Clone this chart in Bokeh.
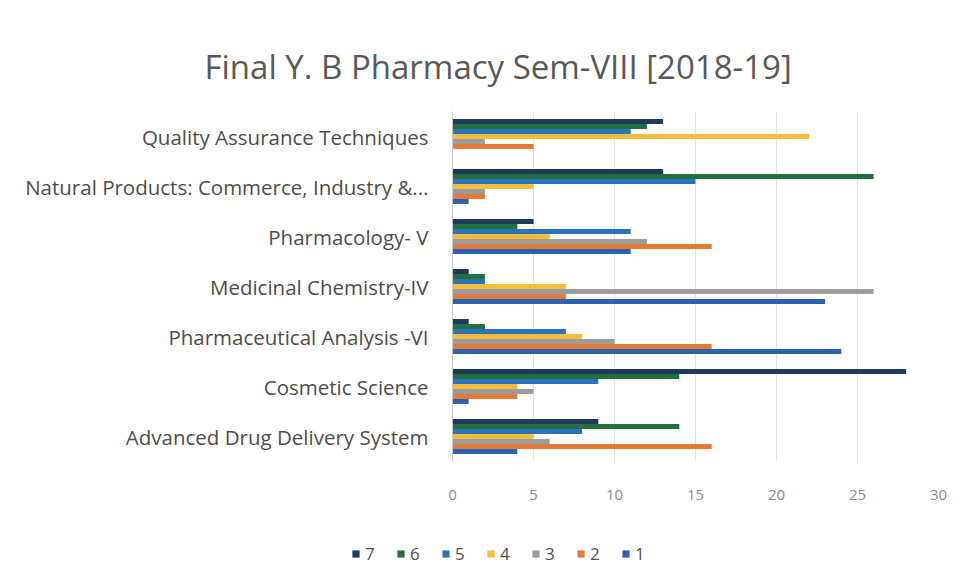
from bokeh.plotting import figure
from bokeh.models import ColumnDataSource, FactorRange, Legend, LegendItem
from bokeh.transform import dodge
from bokeh.embed import file_html
from bokeh.resources import INLINE

categories = ["Quality Assurance Techniques",
              "Natural Products: Commerce, Industry &...",
              "Pharmacology- V",
              "Medicinal Chemistry-IV",
              "Pharmaceutical Analysis -VI",
              "Cosmetic Science",
              "Advanced Drug Delivery System"]
series_names = ["7", "6", "5", "4", "3", "2", "1"]
s7 = [13, 13, 5, 1, 1, 28, 9]
s6 = [12, 26, 4, 2, 2, 14, 14]
s5 = [11, 15, 11, 2, 7, 9, 8]
s4 = [22, 5, 6, 7, 8, 4, 5]
s3 = [2, 2, 12, 26, 10, 5, 6]
s2 = [5, 2, 16, 7, 16, 4, 16]
s1 = [0, 1, 11, 23, 24, 1, 4]
x_ticks = [0, 5, 10, 15, 20, 25, 30]

colors = {"7": "#1d3a5c", "6": "#23703f", "5": "#2a74bd", "4": "#f4bd3c",
          "3": "#9c9c9c", "2": "#e27a3a", "1": "#2c62b0"}
values = {"7": s7, "6": s6, "5": s5, "4": s4, "3": s3, "2": s2, "1": s1}

data = {"cat": categories}
for k in series_names:
    data["s" + k] = values[k]
source = ColumnDataSource(data)

FONT = "Open Sans"
bar_h = 0.1

# ---- main chart ----
p = figure(frame_width=486, frame_height=350, output_backend="svg",
           toolbar_location=None,
           y_range=FactorRange(factors=list(reversed(categories))),
           x_range=(0, 30), min_border_left=452, min_border_right=22,
           min_border_top=111, min_border_bottom=50, outline_line_color=None)

p.title.text = "Final Y. B Pharmacy Sem-VIII [2018-19]"
p.title.align = "left"
p.title.offset = -248
p.title.standoff = 46
p.title.text_font = FONT
p.title.text_font_size = "33px"
p.title.text_font_style = "normal"
p.title.text_color = "#595959"

for k in series_names:
    off = (int(k) - 4) * bar_h
    p.hbar(y=dodge("cat", off, range=p.y_range), right="s" + k, left=0,
           height=bar_h, source=source, fill_color=colors[k], line_color=None)

p.xaxis.ticker = x_ticks
p.xaxis.axis_line_color = None
p.xaxis.major_tick_line_color = None
p.xaxis.minor_tick_line_color = None
p.xaxis.major_label_text_font = FONT
p.xaxis.major_label_text_font_size = "15px"
p.xaxis.major_label_text_color = "#8c8c8c"
p.xaxis.major_label_standoff = 22

p.yaxis.axis_line_color = "#c8c8c8"
p.yaxis.major_tick_line_color = None
p.yaxis.minor_tick_line_color = None
p.yaxis.major_label_text_font = FONT
p.yaxis.major_label_text_font_size = "20.5px"
p.yaxis.major_label_text_color = "#4d4d4d"
p.yaxis.major_label_standoff = 18

p.xgrid.grid_line_color = "#e3e3e3"
p.ygrid.grid_line_color = None

# ---- legend strip (same series; their bars fall outside its visible range) ----
leg = figure(width=960, height=60, output_backend="svg", toolbar_location=None,
             y_range=FactorRange(factors=list(reversed(categories))),
             x_range=(-200, -100), x_axis_location=None, y_axis_location=None,
             min_border=0, outline_line_color=None)
leg.xgrid.grid_line_color = None
leg.ygrid.grid_line_color = None
items = []
for k in series_names:
    off = (int(k) - 4) * bar_h
    r = leg.hbar(y=dodge("cat", off, range=leg.y_range), right="s" + k, left=0,
                 height=bar_h, source=source, fill_color=colors[k], line_color=None)
    items.append(LegendItem(label=k, renderers=[r]))

legend = Legend(items=items, orientation="horizontal", location=(351, 6),
                label_text_font=FONT, label_text_font_size="17px",
                label_text_color="#505050", glyph_width=9, glyph_height=9,
                spacing=11, label_standoff=5, border_line_color=None,
                background_fill_alpha=0, margin=0, padding=4)
leg.add_layout(legend)

open("out.html", "w").write(file_html([p, leg], INLINE))
